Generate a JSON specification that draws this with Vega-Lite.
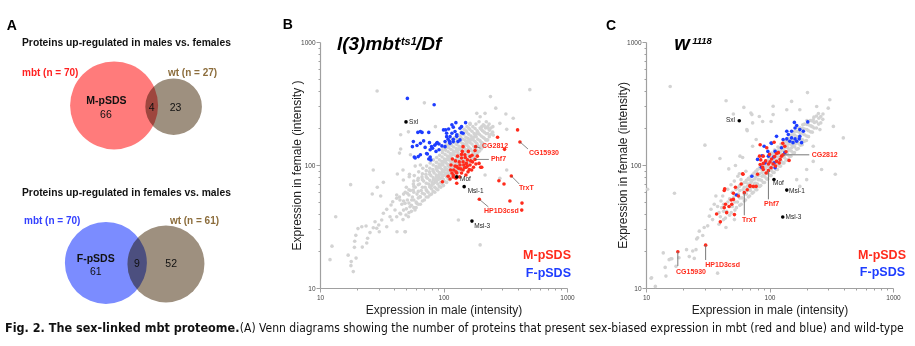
{
"$schema": "https://vega.github.io/schema/vega-lite/v6.json",
"background": "white",
"padding": {"left": 0, "top": 17, "right": 0, "bottom": 0},
"config": {"view": {"stroke": null}, "font": "Liberation Sans"},
"spacing": 4,
"datasets": {
"ptsB": [
{"male":17.7,"female":69.2,"group":"other"},{"male":13.4,"female":38,"group":"other"},{"male":12.5,"female":21.9,"group":"other"},{"male":12.05,"female":17,"group":"other"},{"male":18.6,"female":13.6,"group":"other"},{"male":17.8,"female":15.2,"group":"other"},{"male":17.9,"female":16.4,"group":"other"},{"male":16.9,"female":18.5,"group":"other"},{"male":19.6,"female":17.5,"group":"other"},{"male":19,"female":21.4,"group":"other"},{"male":19.1,"female":24,"group":"other"},{"male":22,"female":21.5,"group":"other"},{"male":24.3,"female":25.4,"group":"other"},{"male":23.9,"female":23.2,"group":"other"},{"male":19.5,"female":26.8,"group":"other"},{"male":20.3,"female":30.4,"group":"other"},{"male":21.8,"female":31.5,"group":"other"},{"male":23.6,"female":31.9,"group":"other"},{"male":25.4,"female":28.2,"group":"other"},{"male":27,"female":30.9,"group":"other"},{"male":27.9,"female":34.6,"group":"other"},{"male":28.8,"female":30.6,"group":"other"},{"male":30.2,"female":28.7,"group":"other"},{"male":29.9,"female":32.5,"group":"other"},{"male":31.6,"female":35.7,"group":"other"},{"male":32.6,"female":40.5,"group":"other"},{"male":34.7,"female":43.6,"group":"other"},{"male":36.9,"female":38,"group":"other"},{"male":38.1,"female":35.7,"group":"other"},{"male":42,"female":28.7,"group":"other"},{"male":49.1,"female":28.7,"group":"other"},{"male":34.7,"female":31.5,"group":"other"},{"male":37.6,"female":47.3,"group":"other"},{"male":38.8,"female":50.3,"group":"other"},{"male":41.8,"female":53.6,"group":"other"},{"male":40.5,"female":43.1,"group":"other"},{"male":44.4,"female":40.5,"group":"other"},{"male":49.7,"female":39.2,"group":"other"},{"male":41.8,"female":38,"group":"other"},{"male":26.5,"female":58.1,"group":"other"},{"male":31,"female":56,"group":"other"},{"male":29.1,"female":65.9,"group":"other"},{"male":32.6,"female":72.3,"group":"other"},{"male":27,"female":91.1,"group":"other"},{"male":42.3,"female":84.5,"group":"other"},{"male":47.3,"female":75.5,"group":"other"},{"male":52.8,"female":80.3,"group":"other"},{"male":41.8,"female":57,"group":"other"},{"male":44.4,"female":51.9,"group":"other"},{"male":48.8,"female":48.8,"group":"other"},{"male":53.5,"female":45.8,"group":"other"},{"male":58.8,"female":43.1,"group":"other"},{"male":50.9,"female":58.9,"group":"other"},{"male":56.9,"female":62.6,"group":"other"},{"male":55.3,"female":51.9,"group":"other"},{"male":60.7,"female":48.8,"group":"other"},{"male":64.5,"female":55.3,"group":"other"},
{"male":29,"female":400,"group":"other"},{"male":70,"female":320,"group":"other"},{"male":86,"female":205,"group":"other"},{"male":52,"female":186,"group":"other"},{"male":45,"female":176,"group":"other"},{"male":45,"female":135,"group":"other"},{"male":44,"female":125,"group":"other"},{"male":54,"female":121,"group":"other"},{"male":47,"female":91,"group":"other"},{"male":53,"female":84,"group":"other"},{"male":59,"female":98,"group":"other"},{"male":65,"female":100,"group":"other"},
{"male":500,"female":410,"group":"other"},{"male":240,"female":360,"group":"other"},{"male":265,"female":290,"group":"other"},{"male":320,"female":260,"group":"other"},{"male":217,"female":263,"group":"other"},{"male":286,"female":218,"group":"other"},{"male":198,"female":247,"group":"other"},{"male":186,"female":263,"group":"other"},{"male":164,"female":218,"group":"other"},{"male":325,"female":195,"group":"other"},{"male":367,"female":240,"group":"other"},{"male":204,"female":205,"group":"other"},{"male":230,"female":199,"group":"other"},{"male":253,"female":175,"group":"other"},{"male":224,"female":160,"group":"other"},{"male":204,"female":146,"group":"other"},{"male":325,"female":91,"group":"other"},{"male":286,"female":78,"group":"other"},{"male":217,"female":83,"group":"other"},{"male":132,"female":35.7,"group":"other"},{"male":198,"female":22.4,"group":"other"},{"male":48.8,"female":28.7,"group":"other"},
{"male":45,"female":40,"group":"other"},{"male":46,"female":48,"group":"other"},{"male":44,"female":55,"group":"other"},{"male":47,"female":36,"group":"other"},
{"male":50,"female":44,"group":"other"},{"male":51,"female":52,"group":"other"},{"male":49,"female":60,"group":"other"},{"male":52,"female":38,"group":"other"},{"male":50,"female":66,"group":"other"},
{"male":55,"female":47,"group":"other"},{"male":56,"female":55,"group":"other"},{"male":54,"female":62,"group":"other"},{"male":57,"female":70,"group":"other"},{"male":55,"female":42,"group":"other"},
{"male":60,"female":50,"group":"other"},{"male":61,"female":58,"group":"other"},{"male":59,"female":66,"group":"other"},{"male":62,"female":75,"group":"other"},{"male":60,"female":45,"group":"other"},{"male":58,"female":82,"group":"other"},
{"male":65,"female":55,"group":"other"},{"male":66,"female":62,"group":"other"},{"male":64,"female":70,"group":"other"},{"male":67,"female":80,"group":"other"},{"male":65,"female":48,"group":"other"},{"male":63,"female":88,"group":"other"},
{"male":70,"female":58,"group":"other"},{"male":71,"female":66,"group":"other"},{"male":69,"female":74,"group":"other"},{"male":72,"female":84,"group":"other"},{"male":70,"female":52,"group":"other"},{"male":68,"female":94,"group":"other"},{"male":73,"female":62,"group":"other"},
{"male":75,"female":60,"group":"other"},{"male":76,"female":70,"group":"other"},{"male":74,"female":78,"group":"other"},{"male":77,"female":88,"group":"other"},{"male":75,"female":55,"group":"other"},{"male":73,"female":98,"group":"other"},{"male":78,"female":66,"group":"other"},
{"male":80,"female":64,"group":"other"},{"male":81,"female":72,"group":"other"},{"male":79,"female":82,"group":"other"},{"male":82,"female":92,"group":"other"},{"male":80,"female":58,"group":"other"},{"male":78,"female":104,"group":"other"},{"male":83,"female":76,"group":"other"},{"male":80,"female":68,"group":"other"},
{"male":85,"female":66,"group":"other"},{"male":86,"female":76,"group":"other"},{"male":84,"female":86,"group":"other"},{"male":87,"female":97,"group":"other"},{"male":85,"female":60,"group":"other"},{"male":83,"female":110,"group":"other"},{"male":88,"female":80,"group":"other"},{"male":85,"female":72,"group":"other"},
{"male":90,"female":70,"group":"other"},{"male":91,"female":80,"group":"other"},{"male":89,"female":90,"group":"other"},{"male":92,"female":102,"group":"other"},{"male":90,"female":63,"group":"other"},{"male":88,"female":115,"group":"other"},{"male":93,"female":84,"group":"other"},{"male":90,"female":76,"group":"other"},{"male":91,"female":96,"group":"other"},
{"male":95,"female":72,"group":"other"},{"male":96,"female":84,"group":"other"},{"male":94,"female":95,"group":"other"},{"male":97,"female":107,"group":"other"},{"male":95,"female":66,"group":"other"},{"male":93,"female":120,"group":"other"},{"male":98,"female":88,"group":"other"},{"male":95,"female":78,"group":"other"},{"male":96,"female":100,"group":"other"},
{"male":100,"female":76,"group":"other"},{"male":101,"female":88,"group":"other"},{"male":99,"female":100,"group":"other"},{"male":102,"female":112,"group":"other"},{"male":100,"female":68,"group":"other"},{"male":98,"female":126,"group":"other"},{"male":103,"female":92,"group":"other"},{"male":100,"female":82,"group":"other"},{"male":101,"female":106,"group":"other"},{"male":99,"female":140,"group":"other"},
{"male":106,"female":80,"group":"other"},{"male":107,"female":92,"group":"other"},{"male":105,"female":104,"group":"other"},{"male":108,"female":118,"group":"other"},{"male":106,"female":72,"group":"other"},{"male":104,"female":132,"group":"other"},{"male":109,"female":98,"group":"other"},{"male":106,"female":86,"group":"other"},{"male":107,"female":111,"group":"other"},{"male":105,"female":146,"group":"other"},
{"male":112,"female":84,"group":"other"},{"male":113,"female":96,"group":"other"},{"male":111,"female":110,"group":"other"},{"male":114,"female":124,"group":"other"},{"male":112,"female":76,"group":"other"},{"male":110,"female":138,"group":"other"},{"male":115,"female":102,"group":"other"},{"male":112,"female":90,"group":"other"},{"male":113,"female":116,"group":"other"},{"male":111,"female":152,"group":"other"},
{"male":118,"female":88,"group":"other"},{"male":119,"female":100,"group":"other"},{"male":117,"female":114,"group":"other"},{"male":120,"female":130,"group":"other"},{"male":118,"female":80,"group":"other"},{"male":116,"female":145,"group":"other"},{"male":121,"female":106,"group":"other"},{"male":118,"female":94,"group":"other"},{"male":119,"female":122,"group":"other"},{"male":117,"female":160,"group":"other"},
{"male":125,"female":92,"group":"other"},{"male":126,"female":105,"group":"other"},{"male":124,"female":120,"group":"other"},{"male":127,"female":136,"group":"other"},{"male":125,"female":84,"group":"other"},{"male":123,"female":152,"group":"other"},{"male":128,"female":112,"group":"other"},{"male":125,"female":98,"group":"other"},{"male":126,"female":128,"group":"other"},{"male":124,"female":168,"group":"other"},
{"male":132,"female":96,"group":"other"},{"male":133,"female":110,"group":"other"},{"male":131,"female":126,"group":"other"},{"male":134,"female":142,"group":"other"},{"male":132,"female":88,"group":"other"},{"male":130,"female":160,"group":"other"},{"male":135,"female":118,"group":"other"},{"male":132,"female":102,"group":"other"},{"male":133,"female":134,"group":"other"},{"male":131,"female":176,"group":"other"},
{"male":140,"female":100,"group":"other"},{"male":141,"female":116,"group":"other"},{"male":139,"female":132,"group":"other"},{"male":142,"female":150,"group":"other"},{"male":140,"female":92,"group":"other"},{"male":138,"female":168,"group":"other"},{"male":143,"female":124,"group":"other"},{"male":140,"female":108,"group":"other"},{"male":141,"female":140,"group":"other"},{"male":139,"female":185,"group":"other"},
{"male":148,"female":106,"group":"other"},{"male":149,"female":122,"group":"other"},{"male":147,"female":138,"group":"other"},{"male":150,"female":158,"group":"other"},{"male":148,"female":96,"group":"other"},{"male":146,"female":176,"group":"other"},{"male":151,"female":130,"group":"other"},{"male":149,"female":146,"group":"other"},{"male":147,"female":195,"group":"other"},
{"male":156,"female":112,"group":"other"},{"male":157,"female":128,"group":"other"},{"male":155,"female":145,"group":"other"},{"male":158,"female":165,"group":"other"},{"male":156,"female":102,"group":"other"},{"male":154,"female":185,"group":"other"},{"male":159,"female":136,"group":"other"},{"male":157,"female":154,"group":"other"},{"male":155,"female":205,"group":"other"},
{"male":165,"female":118,"group":"other"},{"male":166,"female":135,"group":"other"},{"male":164,"female":152,"group":"other"},{"male":167,"female":172,"group":"other"},{"male":165,"female":108,"group":"other"},{"male":163,"female":195,"group":"other"},{"male":166,"female":160,"group":"other"},{"male":164,"female":214,"group":"other"},
{"male":175,"female":125,"group":"other"},{"male":176,"female":142,"group":"other"},{"male":174,"female":160,"group":"other"},{"male":177,"female":180,"group":"other"},{"male":175,"female":115,"group":"other"},{"male":173,"female":205,"group":"other"},{"male":176,"female":168,"group":"other"},
{"male":185,"female":132,"group":"other"},{"male":186,"female":150,"group":"other"},{"male":184,"female":170,"group":"other"},{"male":187,"female":190,"group":"other"},{"male":185,"female":122,"group":"other"},{"male":183,"female":215,"group":"other"},{"male":186,"female":180,"group":"other"},
{"male":196,"female":140,"group":"other"},{"male":197,"female":158,"group":"other"},{"male":195,"female":178,"group":"other"},{"male":198,"female":200,"group":"other"},{"male":196,"female":130,"group":"other"},{"male":194,"female":225,"group":"other"},
{"male":208,"female":150,"group":"other"},{"male":209,"female":168,"group":"other"},{"male":207,"female":190,"group":"other"},{"male":210,"female":212,"group":"other"},{"male":208,"female":140,"group":"other"},
{"male":220,"female":160,"group":"other"},{"male":221,"female":180,"group":"other"},{"male":219,"female":200,"group":"other"},{"male":222,"female":225,"group":"other"},
{"male":235,"female":170,"group":"other"},{"male":236,"female":192,"group":"other"},{"male":234,"female":215,"group":"other"},
{"male":250,"female":185,"group":"other"},{"male":251,"female":205,"group":"other"},
{"male":47.5,"female":43,"group":"other"},{"male":47.5,"female":51,"group":"other"},{"male":47.5,"female":58,"group":"other"},
{"male":52.5,"female":41,"group":"other"},{"male":52.5,"female":49,"group":"other"},{"male":52.5,"female":57,"group":"other"},{"male":52.5,"female":63,"group":"other"},
{"male":57.5,"female":45,"group":"other"},{"male":57.5,"female":52,"group":"other"},{"male":57.5,"female":60,"group":"other"},{"male":57.5,"female":67,"group":"other"},{"male":57.5,"female":74,"group":"other"},
{"male":62.5,"female":48,"group":"other"},{"male":62.5,"female":54,"group":"other"},{"male":62.5,"female":61,"group":"other"},{"male":62.5,"female":69,"group":"other"},{"male":62.5,"female":78,"group":"other"},
{"male":67.5,"female":51,"group":"other"},{"male":67.5,"female":59,"group":"other"},{"male":67.5,"female":66,"group":"other"},{"male":67.5,"female":76,"group":"other"},{"male":67.5,"female":85,"group":"other"},
{"male":72.5,"female":55,"group":"other"},{"male":72.5,"female":63,"group":"other"},{"male":72.5,"female":71,"group":"other"},{"male":72.5,"female":80,"group":"other"},{"male":72.5,"female":90,"group":"other"},
{"male":77.5,"female":57,"group":"other"},{"male":77.5,"female":67,"group":"other"},{"male":77.5,"female":75,"group":"other"},{"male":77.5,"female":84,"group":"other"},{"male":77.5,"female":94,"group":"other"},
{"male":82.5,"female":61,"group":"other"},{"male":82.5,"female":70,"group":"other"},{"male":82.5,"female":79,"group":"other"},{"male":82.5,"female":89,"group":"other"},{"male":82.5,"female":100,"group":"other"},
{"male":87.5,"female":64,"group":"other"},{"male":87.5,"female":73,"group":"other"},{"male":87.5,"female":83,"group":"other"},{"male":87.5,"female":93,"group":"other"},{"male":87.5,"female":105,"group":"other"},
{"male":92.5,"female":67,"group":"other"},{"male":92.5,"female":77,"group":"other"},{"male":92.5,"female":87,"group":"other"},{"male":92.5,"female":98,"group":"other"},{"male":92.5,"female":110,"group":"other"},
{"male":97.5,"female":70,"group":"other"},{"male":97.5,"female":80,"group":"other"},{"male":97.5,"female":92,"group":"other"},{"male":97.5,"female":103,"group":"other"},{"male":97.5,"female":116,"group":"other"},{"male":97.5,"female":132,"group":"other"},
{"male":103,"female":73,"group":"other"},{"male":103,"female":84,"group":"other"},{"male":103,"female":96,"group":"other"},{"male":103,"female":108,"group":"other"},{"male":103,"female":122,"group":"other"},{"male":103,"female":138,"group":"other"},
{"male":109,"female":77,"group":"other"},{"male":109,"female":88,"group":"other"},{"male":109,"female":101,"group":"other"},{"male":109,"female":114,"group":"other"},{"male":109,"female":128,"group":"other"},{"male":109,"female":144,"group":"other"},
{"male":115,"female":81,"group":"other"},{"male":115,"female":92,"group":"other"},{"male":115,"female":106,"group":"other"},{"male":115,"female":120,"group":"other"},{"male":115,"female":134,"group":"other"},{"male":115,"female":150,"group":"other"},
{"male":121,"female":85,"group":"other"},{"male":121,"female":97,"group":"other"},{"male":121,"female":110,"group":"other"},{"male":121,"female":125,"group":"other"},{"male":121,"female":140,"group":"other"},{"male":121,"female":156,"group":"other"},
{"male":128,"female":88,"group":"other"},{"male":128,"female":101,"group":"other"},{"male":128,"female":115,"group":"other"},{"male":128,"female":131,"group":"other"},{"male":128,"female":147,"group":"other"},{"male":128,"female":164,"group":"other"},
{"male":136,"female":92,"group":"other"},{"male":136,"female":106,"group":"other"},{"male":136,"female":121,"group":"other"},{"male":136,"female":138,"group":"other"},{"male":136,"female":155,"group":"other"},{"male":136,"female":172,"group":"other"},
{"male":144,"female":97,"group":"other"},{"male":144,"female":111,"group":"other"},{"male":144,"female":127,"group":"other"},{"male":144,"female":144,"group":"other"},{"male":144,"female":162,"group":"other"},{"male":144,"female":180,"group":"other"},
{"male":152,"female":102,"group":"other"},{"male":152,"female":117,"group":"other"},{"male":152,"female":133,"group":"other"},{"male":152,"female":150,"group":"other"},{"male":152,"female":168,"group":"other"},{"male":152,"female":190,"group":"other"},
{"male":160,"female":107,"group":"other"},{"male":160,"female":122,"group":"other"},{"male":160,"female":140,"group":"other"},{"male":160,"female":158,"group":"other"},{"male":160,"female":178,"group":"other"},{"male":160,"female":200,"group":"other"},
{"male":170,"female":113,"group":"other"},{"male":170,"female":130,"group":"other"},{"male":170,"female":148,"group":"other"},{"male":170,"female":166,"group":"other"},{"male":170,"female":188,"group":"other"},
{"male":180,"female":120,"group":"other"},{"male":180,"female":137,"group":"other"},{"male":180,"female":155,"group":"other"},{"male":180,"female":175,"group":"other"},{"male":180,"female":198,"group":"other"},
{"male":190,"female":127,"group":"other"},{"male":190,"female":144,"group":"other"},{"male":190,"female":162,"group":"other"},{"male":190,"female":184,"group":"other"},
{"male":202,"female":135,"group":"other"},{"male":202,"female":153,"group":"other"},{"male":202,"female":172,"group":"other"},{"male":202,"female":195,"group":"other"},
{"male":214,"female":145,"group":"other"},{"male":214,"female":165,"group":"other"},{"male":214,"female":185,"group":"other"},{"male":214,"female":208,"group":"other"},
{"male":228,"female":160,"group":"other"},{"male":228,"female":180,"group":"other"},{"male":228,"female":205,"group":"other"},
{"male":242,"female":178,"group":"other"},{"male":242,"female":200,"group":"other"},
{"male":51,"female":348,"group":"F-pSDS"},{"male":84,"female":309,"group":"F-pSDS"},{"male":62,"female":184,"group":"F-pSDS"},{"male":67,"female":184,"group":"F-pSDS"},{"male":76,"female":184,"group":"F-pSDS"},{"male":57,"female":155,"group":"F-pSDS"},{"male":65,"female":150,"group":"F-pSDS"},{"male":69,"female":157,"group":"F-pSDS"},{"male":77,"female":152,"group":"F-pSDS"},{"male":56,"female":141,"group":"F-pSDS"},{"male":61,"female":144,"group":"F-pSDS"},{"male":71,"female":139,"group":"F-pSDS"},{"male":85,"female":145,"group":"F-pSDS"},{"male":89,"female":152,"group":"F-pSDS"},{"male":92,"female":148,"group":"F-pSDS"},{"male":97,"female":143,"group":"F-pSDS"},{"male":104,"female":193,"group":"F-pSDS"},{"male":106,"female":170,"group":"F-pSDS"},{"male":109,"female":162,"group":"F-pSDS"},{"male":112,"female":155,"group":"F-pSDS"},{"male":103,"female":141,"group":"F-pSDS"},{"male":92,"female":133,"group":"F-pSDS"},{"male":78,"female":133,"group":"F-pSDS"},{"male":87,"female":129,"group":"F-pSDS"},{"male":65,"female":121,"group":"F-pSDS"},{"male":74,"female":123,"group":"F-pSDS"},{"male":78,"female":116,"group":"F-pSDS"},{"male":79,"female":110,"group":"F-pSDS"},{"male":59,"female":114,"group":"F-pSDS"},{"male":76,"female":112,"group":"F-pSDS"},{"male":110,"female":196,"group":"F-pSDS"},{"male":117,"female":181,"group":"F-pSDS"},{"male":124,"female":187,"group":"F-pSDS"},{"male":136,"female":199,"group":"F-pSDS"},{"male":140,"female":183,"group":"F-pSDS"},{"male":128,"female":171,"group":"F-pSDS"},{"male":120,"female":162,"group":"F-pSDS"},{"male":113,"female":150,"group":"F-pSDS"},{"male":103,"female":155,"group":"F-pSDS"},{"male":131,"female":155,"group":"F-pSDS"},{"male":144,"female":181,"group":"F-pSDS"},{"male":117,"female":212,"group":"F-pSDS"},{"male":126,"female":221,"group":"F-pSDS"},{"male":80,"female":141,"group":"F-pSDS"},{"male":65,"female":187,"group":"F-pSDS"},{"male":58,"female":116,"group":"F-pSDS"},{"male":120,"female":203,"group":"F-pSDS"},{"male":140,"female":205,"group":"F-pSDS"},{"male":151,"female":221,"group":"F-pSDS"},{"male":100,"female":193,"group":"F-pSDS"},{"male":62.5,"female":117,"group":"F-pSDS"},{"male":73,"female":124,"group":"F-pSDS"},{"male":81.6,"female":137,"group":"F-pSDS"},{"male":88,"female":150,"group":"F-pSDS"},{"male":106,"female":181,"group":"F-pSDS"},{"male":113,"female":170,"group":"F-pSDS"},{"male":128,"female":176,"group":"F-pSDS"},{"male":136,"female":160,"group":"F-pSDS"},{"male":120,"female":155,"group":"F-pSDS"},
{"male":398,"female":193,"group":"M-pSDS"},{"male":416,"female":154,"group":"M-pSDS"},{"male":274,"female":168,"group":"M-pSDS"},{"male":312,"female":134,"group":"M-pSDS"},{"male":182,"female":141,"group":"M-pSDS"},{"male":180,"female":131,"group":"M-pSDS"},{"male":200,"female":96,"group":"M-pSDS"},{"male":164,"female":117,"group":"M-pSDS"},{"male":156,"female":110,"group":"M-pSDS"},{"male":149,"female":121,"group":"M-pSDS"},{"male":144,"female":106,"group":"M-pSDS"},{"male":140,"female":114,"group":"M-pSDS"},{"male":136,"female":100,"group":"M-pSDS"},{"male":132,"female":94,"group":"M-pSDS"},{"male":144,"female":91,"group":"M-pSDS"},{"male":153,"female":96,"group":"M-pSDS"},{"male":128,"female":86,"group":"M-pSDS"},{"male":120,"female":80,"group":"M-pSDS"},{"male":114,"female":91,"group":"M-pSDS"},{"male":124,"female":98,"group":"M-pSDS"},{"male":140,"female":86,"group":"M-pSDS"},{"male":164,"female":100,"group":"M-pSDS"},{"male":172,"female":106,"group":"M-pSDS"},{"male":169,"female":91,"group":"M-pSDS"},{"male":152,"female":83,"group":"M-pSDS"},{"male":134,"female":106,"group":"M-pSDS"},{"male":142,"female":129,"group":"M-pSDS"},{"male":159,"female":129,"group":"M-pSDS"},{"male":98,"female":73,"group":"M-pSDS"},{"male":113,"female":77,"group":"M-pSDS"},{"male":117,"female":86,"group":"M-pSDS"},{"male":128,"female":97,"group":"M-pSDS"},{"male":153,"female":103,"group":"M-pSDS"},{"male":166,"female":108,"group":"M-pSDS"},{"male":183,"female":102,"group":"M-pSDS"},{"male":194,"female":103,"group":"M-pSDS"},{"male":204,"female":96,"group":"M-pSDS"},{"male":121,"female":91,"group":"M-pSDS"},{"male":126,"female":78,"group":"M-pSDS"},{"male":128,"female":71,"group":"M-pSDS"},{"male":120,"female":83,"group":"M-pSDS"},{"male":109,"female":81,"group":"M-pSDS"},{"male":281,"female":74.5,"group":"M-pSDS"},{"male":309,"female":70,"group":"M-pSDS"},{"male":354,"female":81.4,"group":"M-pSDS"},{"male":345,"female":51,"group":"M-pSDS"},{"male":432,"female":49,"group":"M-pSDS"},{"male":430,"female":43,"group":"M-pSDS"},{"male":195,"female":52.6,"group":"M-pSDS"},{"male":140,"female":122,"group":"M-pSDS"},{"male":144,"female":141,"group":"M-pSDS"},{"male":180,"female":111,"group":"M-pSDS"},{"male":130,"female":118,"group":"M-pSDS"},{"male":148,"female":95,"group":"M-pSDS"},{"male":158,"female":88,"group":"M-pSDS"},{"male":175,"female":96,"group":"M-pSDS"},{"male":188,"female":118,"group":"M-pSDS"},{"male":125,"female":108,"group":"M-pSDS"},{"male":115,"female":100,"group":"M-pSDS"},{"male":135,"female":80,"group":"M-pSDS"},{"male":162,"female":92,"group":"M-pSDS"},{"male":170,"female":120,"group":"M-pSDS"},{"male":150,"female":115,"group":"M-pSDS"},{"male":138,"female":93,"group":"M-pSDS"},{"male":146,"female":100,"group":"M-pSDS"},{"male":156,"female":98,"group":"M-pSDS"},{"male":118,"female":112,"group":"M-pSDS"},{"male":126,"female":88,"group":"M-pSDS"},
{"male":49.7,"female":224,"group":"marker"},{"male":128,"female":80,"group":"marker"},{"male":147,"female":66.7,"group":"marker"},{"male":170,"female":35,"group":"marker"}
],
"ptsC": [
{"male":15.7,"female":435,"group":"other"},{"male":44.5,"female":333,"group":"other"},{"male":62,"female":294,"group":"other"},{"male":51,"female":260,"group":"other"},{"male":70.7,"female":265,"group":"other"},{"male":82.7,"female":248,"group":"other"},{"male":88,"female":226,"group":"other"},{"male":73,"female":220,"group":"other"},{"male":66,"female":190,"group":"other"},{"male":103,"female":226,"group":"other"},{"male":30,"female":145,"group":"other"},{"male":39.7,"female":113,"group":"other"},{"male":46.8,"female":93,"group":"other"},{"male":53,"female":99,"group":"other"},{"male":60.6,"female":115,"group":"other"},{"male":57,"female":85,"group":"other"},{"male":64.4,"female":89,"group":"other"},{"male":78,"female":161,"group":"other"},{"male":73,"female":142,"group":"other"},{"male":107,"female":300,"group":"other"},{"male":151,"female":329,"group":"other"},{"male":203,"female":388,"group":"other"},{"male":308,"female":339,"group":"other"},{"male":396,"female":166,"group":"other"},
{"male":11,"female":12,"group":"other"},{"male":11.9,"female":10.3,"group":"other"},{"male":14.5,"female":12.5,"group":"other"},{"male":15.4,"female":17,"group":"other"},{"male":16.2,"female":17.3,"group":"other"},{"male":17.5,"female":15,"group":"other"},{"male":18.5,"female":17.6,"group":"other"},{"male":21.3,"female":20.5,"group":"other"},{"male":22.4,"female":18,"group":"other"},{"male":23.9,"female":20,"group":"other"},{"male":25.4,"female":20.5,"group":"other"},{"male":26.2,"female":25.6,"group":"other"},{"male":27,"female":29,"group":"other"},{"male":28.8,"female":26.7,"group":"other"},{"male":24.6,"female":17.4,"group":"other"},{"male":17,"female":59,"group":"other"},{"male":10.3,"female":63.5,"group":"other"},{"male":29.6,"female":31,"group":"other"},{"male":31.6,"female":32,"group":"other"},{"male":32.6,"female":38.4,"group":"other"},{"male":34.6,"female":36,"group":"other"},{"male":33.6,"female":43.7,"group":"other"},{"male":35.7,"female":48,"group":"other"},{"male":38,"female":46,"group":"other"},{"male":40.5,"female":51,"group":"other"},{"male":41.8,"female":56,"group":"other"},{"male":36.8,"female":56,"group":"other"},{"male":39,"female":41,"group":"other"},{"male":45.9,"female":63.5,"group":"other"},{"male":48.8,"female":69,"group":"other"},{"male":51.9,"female":74,"group":"other"},{"male":53.5,"female":63.5,"group":"other"},{"male":56.9,"female":67,"group":"other"},{"male":55.4,"female":81,"group":"other"},{"male":58.8,"female":76,"group":"other"},{"male":64.4,"female":72,"group":"other"},{"male":68.6,"female":76,"group":"other"},{"male":44.4,"female":31,"group":"other"},{"male":52,"female":36,"group":"other"},{"male":14.3,"female":14.7,"group":"other"},{"male":13.8,"female":19.3,"group":"other"},{"male":15.9,"female":17.3,"group":"other"},{"male":11.1,"female":12.1,"group":"other"},{"male":38,"female":13.2,"group":"other"},{"male":25.7,"female":25,"group":"other"},{"male":176,"female":67,"group":"other"},{"male":200,"female":76,"group":"other"},{"male":264,"female":92,"group":"other"},{"male":341,"female":84,"group":"other"},{"male":200,"female":92,"group":"other"},
{"male":299,"female":290,"group":"other"},{"male":241,"female":299,"group":"other"},{"male":176,"female":281,"group":"other"},{"male":226,"female":233,"group":"other"},{"male":256,"female":194,"group":"other"},{"male":329,"female":206,"group":"other"},{"male":226,"female":142,"group":"other"},{"male":138,"female":281,"group":"other"},{"male":107,"female":257,"group":"other"},{"male":72,"female":257,"group":"other"},{"male":65.5,"female":194,"group":"other"},{"male":57.7,"female":118,"group":"other"},{"male":226,"female":107,"group":"other"},{"male":166,"female":76,"group":"other"},
{"male":40,"female":38,"group":"other"},{"male":41,"female":45,"group":"other"},{"male":39,"female":33,"group":"other"},
{"male":45,"female":42,"group":"other"},{"male":46,"female":50,"group":"other"},{"male":44,"female":37,"group":"other"},
{"male":50,"female":46,"group":"other"},{"male":51,"female":54,"group":"other"},{"male":49,"female":41,"group":"other"},{"male":50,"female":60,"group":"other"},
{"male":55,"female":50,"group":"other"},{"male":56,"female":58,"group":"other"},{"male":54,"female":45,"group":"other"},{"male":55,"female":65,"group":"other"},
{"male":60,"female":54,"group":"other"},{"male":61,"female":63,"group":"other"},{"male":59,"female":48,"group":"other"},{"male":60,"female":70,"group":"other"},
{"male":65,"female":58,"group":"other"},{"male":66,"female":67,"group":"other"},{"male":64,"female":52,"group":"other"},{"male":65,"female":75,"group":"other"},{"male":66,"female":62,"group":"other"},
{"male":70,"female":62,"group":"other"},{"male":71,"female":72,"group":"other"},{"male":69,"female":56,"group":"other"},{"male":70,"female":80,"group":"other"},{"male":71,"female":66,"group":"other"},
{"male":75,"female":66,"group":"other"},{"male":76,"female":77,"group":"other"},{"male":74,"female":60,"group":"other"},{"male":75,"female":86,"group":"other"},{"male":76,"female":71,"group":"other"},
{"male":80,"female":70,"group":"other"},{"male":81,"female":82,"group":"other"},{"male":79,"female":63,"group":"other"},{"male":80,"female":92,"group":"other"},{"male":81,"female":76,"group":"other"},{"male":79,"female":87,"group":"other"},
{"male":86,"female":75,"group":"other"},{"male":87,"female":87,"group":"other"},{"male":85,"female":68,"group":"other"},{"male":86,"female":98,"group":"other"},{"male":87,"female":81,"group":"other"},{"male":85,"female":93,"group":"other"},
{"male":92,"female":80,"group":"other"},{"male":93,"female":93,"group":"other"},{"male":91,"female":72,"group":"other"},{"male":92,"female":104,"group":"other"},{"male":93,"female":86,"group":"other"},{"male":91,"female":99,"group":"other"},
{"male":98,"female":85,"group":"other"},{"male":99,"female":98,"group":"other"},{"male":97,"female":77,"group":"other"},{"male":98,"female":110,"group":"other"},{"male":99,"female":91,"group":"other"},{"male":97,"female":104,"group":"other"},{"male":98,"female":118,"group":"other"},
{"male":104,"female":90,"group":"other"},{"male":105,"female":104,"group":"other"},{"male":103,"female":82,"group":"other"},{"male":104,"female":116,"group":"other"},{"male":105,"female":97,"group":"other"},{"male":103,"female":110,"group":"other"},{"male":104,"female":125,"group":"other"},
{"male":110,"female":96,"group":"other"},{"male":111,"female":110,"group":"other"},{"male":109,"female":87,"group":"other"},{"male":110,"female":122,"group":"other"},{"male":111,"female":103,"group":"other"},{"male":109,"female":116,"group":"other"},{"male":110,"female":132,"group":"other"},
{"male":117,"female":102,"group":"other"},{"male":118,"female":116,"group":"other"},{"male":116,"female":92,"group":"other"},{"male":117,"female":130,"group":"other"},{"male":118,"female":109,"group":"other"},{"male":116,"female":123,"group":"other"},{"male":117,"female":140,"group":"other"},
{"male":124,"female":108,"group":"other"},{"male":125,"female":123,"group":"other"},{"male":123,"female":98,"group":"other"},{"male":124,"female":138,"group":"other"},{"male":125,"female":116,"group":"other"},{"male":123,"female":130,"group":"other"},{"male":124,"female":148,"group":"other"},
{"male":132,"female":115,"group":"other"},{"male":133,"female":130,"group":"other"},{"male":131,"female":104,"group":"other"},{"male":132,"female":146,"group":"other"},{"male":133,"female":122,"group":"other"},{"male":131,"female":138,"group":"other"},{"male":132,"female":156,"group":"other"},
{"male":140,"female":122,"group":"other"},{"male":141,"female":138,"group":"other"},{"male":139,"female":110,"group":"other"},{"male":140,"female":155,"group":"other"},{"male":141,"female":130,"group":"other"},{"male":139,"female":146,"group":"other"},{"male":140,"female":165,"group":"other"},
{"male":150,"female":130,"group":"other"},{"male":151,"female":147,"group":"other"},{"male":149,"female":118,"group":"other"},{"male":150,"female":164,"group":"other"},{"male":151,"female":138,"group":"other"},{"male":149,"female":156,"group":"other"},{"male":150,"female":175,"group":"other"},
{"male":160,"female":140,"group":"other"},{"male":161,"female":157,"group":"other"},{"male":159,"female":126,"group":"other"},{"male":160,"female":175,"group":"other"},{"male":161,"female":148,"group":"other"},{"male":159,"female":187,"group":"other"},
{"male":172,"female":150,"group":"other"},{"male":173,"female":168,"group":"other"},{"male":171,"female":136,"group":"other"},{"male":172,"female":186,"group":"other"},{"male":173,"female":200,"group":"other"},
{"male":185,"female":160,"group":"other"},{"male":186,"female":180,"group":"other"},{"male":184,"female":146,"group":"other"},{"male":185,"female":198,"group":"other"},{"male":186,"female":212,"group":"other"},
{"male":200,"female":172,"group":"other"},{"male":201,"female":194,"group":"other"},{"male":199,"female":158,"group":"other"},{"male":200,"female":214,"group":"other"},{"male":201,"female":230,"group":"other"},
{"male":215,"female":186,"group":"other"},{"male":216,"female":208,"group":"other"},{"male":214,"female":230,"group":"other"},
{"male":230,"female":200,"group":"other"},{"male":231,"female":222,"group":"other"},{"male":229,"female":245,"group":"other"},
{"male":250,"female":215,"group":"other"},{"male":251,"female":240,"group":"other"},{"male":249,"female":262,"group":"other"},
{"male":270,"female":235,"group":"other"},{"male":271,"female":260,"group":"other"},
{"male":42.5,"female":36,"group":"other"},{"male":42.5,"female":42,"group":"other"},{"male":42.5,"female":48,"group":"other"},
{"male":47.5,"female":39,"group":"other"},{"male":47.5,"female":46,"group":"other"},{"male":47.5,"female":53,"group":"other"},
{"male":52.5,"female":43,"group":"other"},{"male":52.5,"female":50,"group":"other"},{"male":52.5,"female":57,"group":"other"},
{"male":57.5,"female":47,"group":"other"},{"male":57.5,"female":54,"group":"other"},{"male":57.5,"female":62,"group":"other"},{"male":57.5,"female":68,"group":"other"},
{"male":62.5,"female":51,"group":"other"},{"male":62.5,"female":58,"group":"other"},{"male":62.5,"female":66,"group":"other"},{"male":62.5,"female":72,"group":"other"},
{"male":67.5,"female":55,"group":"other"},{"male":67.5,"female":63,"group":"other"},{"male":67.5,"female":70,"group":"other"},{"male":67.5,"female":78,"group":"other"},
{"male":72.5,"female":59,"group":"other"},{"male":72.5,"female":67,"group":"other"},{"male":72.5,"female":75,"group":"other"},{"male":72.5,"female":83,"group":"other"},
{"male":77.5,"female":63,"group":"other"},{"male":77.5,"female":71,"group":"other"},{"male":77.5,"female":80,"group":"other"},{"male":77.5,"female":89,"group":"other"},
{"male":83,"female":67,"group":"other"},{"male":83,"female":76,"group":"other"},{"male":83,"female":85,"group":"other"},{"male":83,"female":95,"group":"other"},
{"male":89,"female":72,"group":"other"},{"male":89,"female":82,"group":"other"},{"male":89,"female":91,"group":"other"},{"male":89,"female":101,"group":"other"},
{"male":95,"female":77,"group":"other"},{"male":95,"female":87,"group":"other"},{"male":95,"female":97,"group":"other"},{"male":95,"female":108,"group":"other"},
{"male":101,"female":82,"group":"other"},{"male":101,"female":93,"group":"other"},{"male":101,"female":104,"group":"other"},{"male":101,"female":115,"group":"other"},
{"male":107,"female":87,"group":"other"},{"male":107,"female":99,"group":"other"},{"male":107,"female":110,"group":"other"},{"male":107,"female":122,"group":"other"},
{"male":113,"female":92,"group":"other"},{"male":113,"female":105,"group":"other"},{"male":113,"female":117,"group":"other"},{"male":113,"female":130,"group":"other"},
{"male":120,"female":98,"group":"other"},{"male":120,"female":111,"group":"other"},{"male":120,"female":124,"group":"other"},{"male":120,"female":138,"group":"other"},
{"male":128,"female":104,"group":"other"},{"male":128,"female":118,"group":"other"},{"male":128,"female":132,"group":"other"},{"male":128,"female":146,"group":"other"},
{"male":136,"female":110,"group":"other"},{"male":136,"female":125,"group":"other"},{"male":136,"female":140,"group":"other"},{"male":136,"female":155,"group":"other"},
{"male":145,"female":118,"group":"other"},{"male":145,"female":133,"group":"other"},{"male":145,"female":149,"group":"other"},{"male":145,"female":165,"group":"other"},
{"male":155,"female":126,"group":"other"},{"male":155,"female":142,"group":"other"},{"male":155,"female":159,"group":"other"},{"male":155,"female":176,"group":"other"},
{"male":166,"female":134,"group":"other"},{"male":166,"female":152,"group":"other"},{"male":166,"female":170,"group":"other"},{"male":166,"female":188,"group":"other"},
{"male":178,"female":145,"group":"other"},{"male":178,"female":163,"group":"other"},{"male":178,"female":182,"group":"other"},{"male":178,"female":200,"group":"other"},
{"male":192,"female":156,"group":"other"},{"male":192,"female":176,"group":"other"},{"male":192,"female":196,"group":"other"},{"male":192,"female":215,"group":"other"},
{"male":207,"female":170,"group":"other"},{"male":207,"female":190,"group":"other"},{"male":207,"female":212,"group":"other"},
{"male":222,"female":185,"group":"other"},{"male":222,"female":205,"group":"other"},{"male":222,"female":228,"group":"other"},
{"male":240,"female":200,"group":"other"},{"male":240,"female":225,"group":"other"},{"male":240,"female":250,"group":"other"},
{"male":260,"female":220,"group":"other"},{"male":260,"female":248,"group":"other"},
{"male":90.5,"female":142,"group":"F-pSDS"},{"male":103,"female":151,"group":"F-pSDS"},{"male":97,"female":129,"group":"F-pSDS"},{"male":87,"female":119,"group":"F-pSDS"},{"male":80,"female":111,"group":"F-pSDS"},{"male":92,"female":104,"group":"F-pSDS"},{"male":108,"female":116,"group":"F-pSDS"},{"male":109,"female":104,"group":"F-pSDS"},{"male":86,"female":96,"group":"F-pSDS"},{"male":72,"female":81,"group":"F-pSDS"},{"male":204,"female":224,"group":"F-pSDS"},{"male":159,"female":222,"group":"F-pSDS"},{"male":166,"female":209,"group":"F-pSDS"},{"male":142,"female":177,"group":"F-pSDS"},{"male":151,"female":166,"group":"F-pSDS"},{"male":138,"female":163,"group":"F-pSDS"},{"male":129,"female":161,"group":"F-pSDS"},{"male":114,"female":171,"group":"F-pSDS"},{"male":104,"female":150,"group":"F-pSDS"},{"male":125,"female":138,"group":"F-pSDS"},{"male":98,"female":118,"group":"F-pSDS"},{"male":111,"female":129,"group":"F-pSDS"},{"male":133,"female":126,"group":"F-pSDS"},{"male":176,"female":194,"group":"F-pSDS"},{"male":54,"female":57,"group":"F-pSDS"},{"male":111,"female":95,"group":"F-pSDS"},{"male":161,"female":163,"group":"F-pSDS"},{"male":174,"female":163,"group":"F-pSDS"},{"male":155,"female":152,"group":"F-pSDS"},{"male":146,"female":156,"group":"F-pSDS"},{"male":166,"female":156,"group":"F-pSDS"},{"male":188,"female":188,"group":"F-pSDS"},{"male":176,"female":171,"group":"F-pSDS"},{"male":182,"female":152,"group":"F-pSDS"},{"male":138,"female":188,"group":"F-pSDS"},{"male":151,"female":188,"group":"F-pSDS"},{"male":161,"female":200,"group":"F-pSDS"},
{"male":84,"female":146,"group":"M-pSDS"},{"male":109,"female":153,"group":"M-pSDS"},{"male":128,"female":150,"group":"M-pSDS"},{"male":83,"female":118,"group":"M-pSDS"},{"male":93,"female":108,"group":"M-pSDS"},{"male":144,"female":109,"group":"M-pSDS"},{"male":114,"female":124,"group":"M-pSDS"},{"male":125,"female":118,"group":"M-pSDS"},{"male":129,"female":121,"group":"M-pSDS"},{"male":61,"female":84,"group":"M-pSDS"},{"male":43,"female":62,"group":"M-pSDS"},{"male":51,"female":59,"group":"M-pSDS"},{"male":49,"female":52,"group":"M-pSDS"},{"male":49.5,"female":48,"group":"M-pSDS"},{"male":43,"female":45,"group":"M-pSDS"},{"male":37.3,"female":40,"group":"M-pSDS"},{"male":40,"female":34.5,"group":"M-pSDS"},{"male":52,"female":39.5,"group":"M-pSDS"},{"male":62.5,"female":59.6,"group":"M-pSDS"},{"male":69.6,"female":67,"group":"M-pSDS"},{"male":74,"female":67,"group":"M-pSDS"},{"male":78,"female":67,"group":"M-pSDS"},{"male":66,"female":63,"group":"M-pSDS"},{"male":89,"female":92,"group":"M-pSDS"},{"male":98,"female":90,"group":"M-pSDS"},{"male":98,"female":102,"group":"M-pSDS"},{"male":107,"female":102,"group":"M-pSDS"},{"male":114,"female":107,"group":"M-pSDS"},{"male":89,"female":103,"group":"M-pSDS"},{"male":84,"female":101,"group":"M-pSDS"},{"male":30.4,"female":22.3,"group":"M-pSDS"},{"male":18.1,"female":19.7,"group":"M-pSDS"},{"male":45,"female":41,"group":"M-pSDS"},{"male":44,"female":48,"group":"M-pSDS"},{"male":51,"female":52.5,"group":"M-pSDS"},{"male":43.4,"female":64,"group":"M-pSDS"},{"male":60.6,"female":85,"group":"M-pSDS"},{"male":69.5,"female":68,"group":"M-pSDS"},{"male":89,"female":118,"group":"M-pSDS"},{"male":95,"female":138,"group":"M-pSDS"},{"male":133,"female":142,"group":"M-pSDS"},{"male":122,"female":111,"group":"M-pSDS"},{"male":101,"female":106,"group":"M-pSDS"},{"male":104,"female":112,"group":"M-pSDS"},{"male":110,"female":117,"group":"M-pSDS"},{"male":118,"female":126,"group":"M-pSDS"},{"male":112,"female":98,"group":"M-pSDS"},{"male":120,"female":104,"group":"M-pSDS"},{"male":88,"female":96,"group":"M-pSDS"},{"male":94,"female":86,"group":"M-pSDS"},{"male":103,"female":95,"group":"M-pSDS"},{"male":80,"female":84,"group":"M-pSDS"},{"male":85,"female":110,"group":"M-pSDS"},{"male":56,"female":56,"group":"M-pSDS"},{"male":47,"female":46,"group":"M-pSDS"},{"male":59,"female":70,"group":"M-pSDS"},{"male":53,"female":66,"group":"M-pSDS"},{"male":100,"female":122,"group":"M-pSDS"},{"male":136,"female":128,"group":"M-pSDS"},
{"male":56.9,"female":229,"group":"marker"},{"male":108.7,"female":76.3,"group":"marker"},{"male":138,"female":62.5,"group":"marker"},{"male":128,"female":37.8,"group":"marker"}
],
"labB": [
{"name":"Sxl","kind":"control","tx":52.6,"ty":224},
{"name":"Mof","kind":"control","tx":136,"ty":77.6},
{"name":"Msl-1","kind":"control","tx":157,"ty":61.4},
{"name":"Msl-3","kind":"control","tx":177.5,"ty":32.2},
{"name":"CG2812","kind":"sig","male":182,"female":141,"lx":199,"ly":137,"tx":205,"ty":144},
{"name":"Phf7","kind":"sig","male":180,"female":111,"lx":233,"ly":111,"tx":242,"ty":111},
{"name":"CG15930","kind":"sig","male":416,"female":154,"lx":483,"ly":135,"tx":492,"ty":126},
{"name":"TrxT","kind":"sig","male":354,"female":81.4,"lx":411,"ly":70,"tx":408,"ty":65},
{"name":"HP1D3csd","kind":"sig","male":195,"female":52.6,"lx":231,"ly":45.6,"tx":213,"ty":42.3}
],
"labC": [
{"name":"Sxl","kind":"control","tx":44.4,"ty":231},
{"name":"Mof","kind":"control","tx":106.7,"ty":70.8},
{"name":"Msl-1","kind":"control","tx":143.8,"ty":61.6},
{"name":"Msl-3","kind":"control","tx":135,"ty":37.6},
{"name":"CG15930","kind":"sig","male":18.1,"female":19.7,"lx":18.1,"ly":15.1,"tx":17.5,"ty":13.6},
{"name":"HP1D3csd","kind":"sig","male":30.4,"female":22.3,"lx":30.4,"ly":16.9,"tx":30.2,"ty":15.4},
{"name":"TrxT","kind":"sig","male":62.5,"female":59.6,"lx":62.5,"ly":39,"tx":59.9,"ty":35.5},
{"name":"Phf7","kind":"sig","male":98,"female":90,"lx":98,"ly":52.6,"tx":90.2,"ty":48.3},
{"name":"CG2812","kind":"sig","male":129,"female":121,"lx":210,"ly":121,"tx":219.6,"ty":120.5}
]
},
"vconcat": [
{"spacing": 30, "hconcat": [
{
"width": 252, "height": 246,
"data": {"values": [{}]},
"layer": [
{"mark": {"type": "point", "shape": "circle", "filled": true, "size": 7744, "color": "#ff7b7b", "opacity": 1, "strokeWidth": 0}, "encoding": {"x": {"datum": 46.0, "type": "quantitative", "scale": {"domain": [0, 101.6]}, "axis": null}, "y": {"datum": 74.2, "type": "quantitative", "scale": {"domain": [0, 100]}, "axis": null}}},
{"mark": {"type": "point", "shape": "circle", "filled": true, "size": 3204, "color": "#9e907f", "opacity": 1, "strokeWidth": 0, "blend": "multiply"}, "encoding": {"x": {"datum": 70.0, "type": "quantitative", "scale": {"domain": [0, 101.6]}, "axis": null}, "y": {"datum": 73.7, "type": "quantitative", "scale": {"domain": [0, 100]}, "axis": null}}},
{"mark": {"type": "point", "shape": "circle", "filled": true, "size": 6724, "color": "#7b8cff", "opacity": 1, "strokeWidth": 0}, "encoding": {"x": {"datum": 42.7, "type": "quantitative", "scale": {"domain": [0, 101.6]}, "axis": null}, "y": {"datum": 10.2, "type": "quantitative", "scale": {"domain": [0, 100]}, "axis": null}}},
{"mark": {"type": "point", "shape": "circle", "filled": true, "size": 5929, "color": "#9e907f", "opacity": 1, "strokeWidth": 0, "blend": "multiply"}, "encoding": {"x": {"datum": 66.9, "type": "quantitative", "scale": {"domain": [0, 101.6]}, "axis": null}, "y": {"datum": 9.76, "type": "quantitative", "scale": {"domain": [0, 100]}, "axis": null}}},
{"mark": {"type": "text", "text": "A", "align": "left", "baseline": "alphabetic", "fontSize": 14, "fontWeight": "bold", "color": "#000"}, "encoding": {"x": {"datum": 2.7, "type": "quantitative", "scale": {"domain": [0, 101.6]}, "axis": null}, "y": {"datum": 104.9, "type": "quantitative", "scale": {"domain": [0, 100]}, "axis": null}}},
{"mark": {"type": "text", "text": "Proteins up-regulated in males vs. females", "align": "left", "baseline": "alphabetic", "fontSize": 10.3, "fontWeight": "bold", "color": "#111"}, "encoding": {"x": {"datum": 8.87, "type": "quantitative", "scale": {"domain": [0, 101.6]}, "axis": null}, "y": {"datum": 98.2, "type": "quantitative", "scale": {"domain": [0, 100]}, "axis": null}}},
{"mark": {"type": "text", "text": "mbt (n = 70)", "align": "left", "baseline": "alphabetic", "fontSize": 10, "fontWeight": "bold", "color": "#ff1f1f"}, "encoding": {"x": {"datum": 8.87, "type": "quantitative", "scale": {"domain": [0, 101.6]}, "axis": null}, "y": {"datum": 86.2, "type": "quantitative", "scale": {"domain": [0, 100]}, "axis": null}}},
{"mark": {"type": "text", "text": "wt (n = 27)", "align": "left", "baseline": "alphabetic", "fontSize": 10, "fontWeight": "bold", "color": "#8c6d3c"}, "encoding": {"x": {"datum": 67.7, "type": "quantitative", "scale": {"domain": [0, 101.6]}, "axis": null}, "y": {"datum": 86.2, "type": "quantitative", "scale": {"domain": [0, 100]}, "axis": null}}},
{"mark": {"type": "text", "text": "M-pSDS", "align": "center", "baseline": "alphabetic", "fontSize": 10.5, "fontWeight": "bold", "color": "#111"}, "encoding": {"x": {"datum": 42.9, "type": "quantitative", "scale": {"domain": [0, 101.6]}, "axis": null}, "y": {"datum": 74.8, "type": "quantitative", "scale": {"domain": [0, 100]}, "axis": null}}},
{"mark": {"type": "text", "text": "66", "align": "center", "baseline": "alphabetic", "fontSize": 10.5, "color": "#111"}, "encoding": {"x": {"datum": 42.7, "type": "quantitative", "scale": {"domain": [0, 101.6]}, "axis": null}, "y": {"datum": 69.0, "type": "quantitative", "scale": {"domain": [0, 100]}, "axis": null}}},
{"mark": {"type": "text", "text": "4", "align": "center", "baseline": "alphabetic", "fontSize": 10.5, "color": "#111"}, "encoding": {"x": {"datum": 61.1, "type": "quantitative", "scale": {"domain": [0, 101.6]}, "axis": null}, "y": {"datum": 71.95, "type": "quantitative", "scale": {"domain": [0, 100]}, "axis": null}}},
{"mark": {"type": "text", "text": "23", "align": "center", "baseline": "alphabetic", "fontSize": 10.5, "color": "#111"}, "encoding": {"x": {"datum": 70.8, "type": "quantitative", "scale": {"domain": [0, 101.6]}, "axis": null}, "y": {"datum": 71.95, "type": "quantitative", "scale": {"domain": [0, 100]}, "axis": null}}},
{"mark": {"type": "text", "text": "Proteins up-regulated in females vs. males", "align": "left", "baseline": "alphabetic", "fontSize": 10.3, "fontWeight": "bold", "color": "#111"}, "encoding": {"x": {"datum": 8.87, "type": "quantitative", "scale": {"domain": [0, 101.6]}, "axis": null}, "y": {"datum": 37.5, "type": "quantitative", "scale": {"domain": [0, 100]}, "axis": null}}},
{"mark": {"type": "text", "text": "mbt (n = 70)", "align": "left", "baseline": "alphabetic", "fontSize": 10, "fontWeight": "bold", "color": "#3340ff"}, "encoding": {"x": {"datum": 9.68, "type": "quantitative", "scale": {"domain": [0, 101.6]}, "axis": null}, "y": {"datum": 26.0, "type": "quantitative", "scale": {"domain": [0, 100]}, "axis": null}}},
{"mark": {"type": "text", "text": "wt (n = 61)", "align": "left", "baseline": "alphabetic", "fontSize": 10, "fontWeight": "bold", "color": "#8c6d3c"}, "encoding": {"x": {"datum": 68.5, "type": "quantitative", "scale": {"domain": [0, 101.6]}, "axis": null}, "y": {"datum": 26.0, "type": "quantitative", "scale": {"domain": [0, 100]}, "axis": null}}},
{"mark": {"type": "text", "text": "F-pSDS", "align": "center", "baseline": "alphabetic", "fontSize": 10.5, "fontWeight": "bold", "color": "#111"}, "encoding": {"x": {"datum": 38.6, "type": "quantitative", "scale": {"domain": [0, 101.6]}, "axis": null}, "y": {"datum": 10.7, "type": "quantitative", "scale": {"domain": [0, 100]}, "axis": null}}},
{"mark": {"type": "text", "text": "61", "align": "center", "baseline": "alphabetic", "fontSize": 10.5, "color": "#111"}, "encoding": {"x": {"datum": 38.6, "type": "quantitative", "scale": {"domain": [0, 101.6]}, "axis": null}, "y": {"datum": 5.3, "type": "quantitative", "scale": {"domain": [0, 100]}, "axis": null}}},
{"mark": {"type": "text", "text": "9", "align": "center", "baseline": "alphabetic", "fontSize": 10.5, "color": "#111"}, "encoding": {"x": {"datum": 55.2, "type": "quantitative", "scale": {"domain": [0, 101.6]}, "axis": null}, "y": {"datum": 8.4, "type": "quantitative", "scale": {"domain": [0, 100]}, "axis": null}}},
{"mark": {"type": "text", "text": "52", "align": "center", "baseline": "alphabetic", "fontSize": 10.5, "color": "#111"}, "encoding": {"x": {"datum": 69.0, "type": "quantitative", "scale": {"domain": [0, 101.6]}, "axis": null}, "y": {"datum": 8.4, "type": "quantitative", "scale": {"domain": [0, 100]}, "axis": null}}}
]
},
{
"width": 247, "height": 246,
"layer": [
{"data": {"name": "ptsB"}, "mark": {"type": "circle", "size": 13, "opacity": 1}, "encoding": {
"x": {"field": "male", "type": "quantitative", "scale": {"type": "log", "domain": [10, 1000]}, "axis": {"title": "Expression in male (intensity)", "values": [10,20,30,40,50,60,70,80,90,100,200,300,400,500,600,700,800,900,1000], "format": "d", "labelExpr": "(datum.value==10||datum.value==100||datum.value==1000)?datum.label:''", "tickSize": {"condition": {"test": "datum.value==10||datum.value==100||datum.value==1000", "value": 4}, "value": 2}, "labelFontSize": 6.5, "labelColor": "#444", "labelPadding": 2, "labelFlush": false, "labelOverlap": false, "domainColor": "#a0a0a0", "domainWidth": 1.2, "tickColor": "#a0a0a0", "titleFontSize": 12, "titleFontWeight": "normal", "titleColor": "#222", "titlePadding": 4, "grid": false}},
"y": {"field": "female", "type": "quantitative", "scale": {"type": "log", "domain": [10, 1000]}, "axis": {"title": "Expression in female (intensity )", "values": [10,20,30,40,50,60,70,80,90,100,200,300,400,500,600,700,800,900,1000], "format": "d", "labelExpr": "(datum.value==10||datum.value==100||datum.value==1000)?datum.label:''", "tickSize": {"condition": {"test": "datum.value==10||datum.value==100||datum.value==1000", "value": 4}, "value": 2}, "labelFontSize": 6.5, "labelColor": "#444", "labelPadding": 1, "labelFlush": false, "labelOverlap": false, "domainColor": "#a0a0a0", "domainWidth": 1.2, "tickColor": "#a0a0a0", "titleFontSize": 12, "titleFontWeight": "normal", "titleColor": "#222", "titlePadding": -3, "grid": false}},
"color": {"field": "group", "type": "nominal", "scale": {"domain": ["other", "M-pSDS", "F-pSDS", "marker"], "range": ["#d3d3d3", "#ff2b1c", "#1e3dff", "#000000"]}, "legend": null}}},
{"data": {"name": "labB"}, "transform": [{"filter": "isValid(datum.lx)"}], "mark": {"type": "rule", "color": "#555", "strokeWidth": 0.7}, "encoding": {"x": {"field": "male", "type": "quantitative", "scale": {"type": "log", "domain": [10, 1000]}}, "y": {"field": "female", "type": "quantitative", "scale": {"type": "log", "domain": [10, 1000]}}, "x2": {"field": "lx"}, "y2": {"field": "ly"}}},
{"data": {"name": "labB"}, "transform": [{"filter": "datum.kind=='control'"}], "mark": {"type": "text", "align": "left", "baseline": "middle", "fontSize": 6.5, "color": "#222"}, "encoding": {"x": {"field": "tx", "type": "quantitative", "scale": {"type": "log", "domain": [10, 1000]}}, "y": {"field": "ty", "type": "quantitative", "scale": {"type": "log", "domain": [10, 1000]}}, "text": {"field": "name"}}},
{"data": {"name": "labB"}, "transform": [{"filter": "datum.kind=='sig'"}], "mark": {"type": "text", "align": "left", "baseline": "middle", "fontSize": 7, "fontWeight": "bold", "color": "#ff2b1c"}, "encoding": {"x": {"field": "tx", "type": "quantitative", "scale": {"type": "log", "domain": [10, 1000]}}, "y": {"field": "ty", "type": "quantitative", "scale": {"type": "log", "domain": [10, 1000]}}, "text": {"field": "name"}}},
{"data": {"values": [{}]}, "mark": {"type": "text", "text": "l(3)mbt", "align": "left", "baseline": "alphabetic", "fontSize": 19, "fontStyle": "italic", "fontWeight": "bold", "color": "#000"}, "encoding": {"x": {"datum": 13.7, "type": "quantitative", "scale": {"type": "log", "domain": [10, 1000]}}, "y": {"datum": 861, "type": "quantitative", "scale": {"type": "log", "domain": [10, 1000]}}}},
{"data": {"values": [{}]}, "mark": {"type": "text", "text": "ts1", "align": "left", "baseline": "alphabetic", "fontSize": 11, "fontStyle": "italic", "fontWeight": "bold", "color": "#000", "dx": 64, "dy": -5}, "encoding": {"x": {"datum": 13.7, "type": "quantitative", "scale": {"type": "log", "domain": [10, 1000]}}, "y": {"datum": 861, "type": "quantitative", "scale": {"type": "log", "domain": [10, 1000]}}}},
{"data": {"values": [{}]}, "mark": {"type": "text", "text": "/Df", "align": "left", "baseline": "alphabetic", "fontSize": 19, "fontStyle": "italic", "fontWeight": "bold", "color": "#000", "dx": 79}, "encoding": {"x": {"datum": 13.7, "type": "quantitative", "scale": {"type": "log", "domain": [10, 1000]}}, "y": {"datum": 861, "type": "quantitative", "scale": {"type": "log", "domain": [10, 1000]}}}},
{"data": {"values": [{}]}, "mark": {"type": "text", "text": "B", "align": "left", "baseline": "alphabetic", "fontSize": 14, "fontWeight": "bold", "color": "#000"}, "encoding": {"x": {"datum": 5.0, "type": "quantitative", "scale": {"type": "log", "domain": [10, 1000]}}, "y": {"datum": 1276, "type": "quantitative", "scale": {"type": "log", "domain": [10, 1000]}}}},
{"data": {"values": [{}]}, "mark": {"type": "text", "text": "M-pSDS", "align": "right", "baseline": "middle", "fontSize": 12.5, "fontWeight": "bold", "color": "#ff2b1c"}, "encoding": {"x": {"datum": 1077, "type": "quantitative", "scale": {"type": "log", "domain": [10, 1000]}}, "y": {"datum": 18.5, "type": "quantitative", "scale": {"type": "log", "domain": [10, 1000]}}}},
{"data": {"values": [{}]}, "mark": {"type": "text", "text": "F-pSDS", "align": "right", "baseline": "middle", "fontSize": 12.5, "fontWeight": "bold", "color": "#1e3dff"}, "encoding": {"x": {"datum": 1077, "type": "quantitative", "scale": {"type": "log", "domain": [10, 1000]}}, "y": {"datum": 13.2, "type": "quantitative", "scale": {"type": "log", "domain": [10, 1000]}}}}
]
},
{
"width": 247, "height": 246,
"layer": [
{"data": {"name": "ptsC"}, "mark": {"type": "circle", "size": 13, "opacity": 1}, "encoding": {
"x": {"field": "male", "type": "quantitative", "scale": {"type": "log", "domain": [10, 1000]}, "axis": {"title": "Expression in male (intensity)", "values": [10,20,30,40,50,60,70,80,90,100,200,300,400,500,600,700,800,900,1000], "format": "d", "labelExpr": "(datum.value==10||datum.value==100||datum.value==1000)?datum.label:''", "tickSize": {"condition": {"test": "datum.value==10||datum.value==100||datum.value==1000", "value": 4}, "value": 2}, "labelFontSize": 6.5, "labelColor": "#444", "labelPadding": 2, "labelFlush": false, "labelOverlap": false, "domainColor": "#a0a0a0", "domainWidth": 1.2, "tickColor": "#a0a0a0", "titleFontSize": 12, "titleFontWeight": "normal", "titleColor": "#222", "titlePadding": 4, "grid": false}},
"y": {"field": "female", "type": "quantitative", "scale": {"type": "log", "domain": [10, 1000]}, "axis": {"title": "Expression in female (intensity)", "values": [10,20,30,40,50,60,70,80,90,100,200,300,400,500,600,700,800,900,1000], "format": "d", "labelExpr": "(datum.value==10||datum.value==100||datum.value==1000)?datum.label:''", "tickSize": {"condition": {"test": "datum.value==10||datum.value==100||datum.value==1000", "value": 4}, "value": 2}, "labelFontSize": 6.5, "labelColor": "#444", "labelPadding": 1, "labelFlush": false, "labelOverlap": false, "domainColor": "#a0a0a0", "domainWidth": 1.2, "tickColor": "#a0a0a0", "titleFontSize": 12, "titleFontWeight": "normal", "titleColor": "#222", "titlePadding": -3, "grid": false}},
"color": {"field": "group", "type": "nominal", "scale": {"domain": ["other", "M-pSDS", "F-pSDS", "marker"], "range": ["#d3d3d3", "#ff2b1c", "#1e3dff", "#000000"]}, "legend": null}}},
{"data": {"name": "labC"}, "transform": [{"filter": "isValid(datum.lx)"}], "mark": {"type": "rule", "color": "#777", "strokeWidth": 1}, "encoding": {"x": {"field": "male", "type": "quantitative", "scale": {"type": "log", "domain": [10, 1000]}}, "y": {"field": "female", "type": "quantitative", "scale": {"type": "log", "domain": [10, 1000]}}, "x2": {"field": "lx"}, "y2": {"field": "ly"}}},
{"data": {"name": "labC"}, "transform": [{"filter": "datum.kind=='control'"}], "mark": {"type": "text", "align": "left", "baseline": "middle", "fontSize": 6.5, "color": "#222"}, "encoding": {"x": {"field": "tx", "type": "quantitative", "scale": {"type": "log", "domain": [10, 1000]}}, "y": {"field": "ty", "type": "quantitative", "scale": {"type": "log", "domain": [10, 1000]}}, "text": {"field": "name"}}},
{"data": {"name": "labC"}, "transform": [{"filter": "datum.kind=='sig'"}], "mark": {"type": "text", "align": "left", "baseline": "middle", "fontSize": 7, "fontWeight": "bold", "color": "#ff2b1c"}, "encoding": {"x": {"field": "tx", "type": "quantitative", "scale": {"type": "log", "domain": [10, 1000]}}, "y": {"field": "ty", "type": "quantitative", "scale": {"type": "log", "domain": [10, 1000]}}, "text": {"field": "name"}}},
{"data": {"values": [{}]}, "mark": {"type": "text", "text": "w", "align": "left", "baseline": "alphabetic", "fontSize": 20, "fontStyle": "italic", "fontWeight": "bold", "color": "#000"}, "encoding": {"x": {"datum": 16.9, "type": "quantitative", "scale": {"type": "log", "domain": [10, 1000]}}, "y": {"datum": 861, "type": "quantitative", "scale": {"type": "log", "domain": [10, 1000]}}}},
{"data": {"values": [{}]}, "mark": {"type": "text", "text": "1118", "align": "left", "baseline": "alphabetic", "fontSize": 9.5, "fontStyle": "italic", "fontWeight": "bold", "color": "#000", "dx": 18, "dy": -6}, "encoding": {"x": {"datum": 16.9, "type": "quantitative", "scale": {"type": "log", "domain": [10, 1000]}}, "y": {"datum": 861, "type": "quantitative", "scale": {"type": "log", "domain": [10, 1000]}}}},
{"data": {"values": [{}]}, "mark": {"type": "text", "text": "C", "align": "left", "baseline": "alphabetic", "fontSize": 14, "fontWeight": "bold", "color": "#000"}, "encoding": {"x": {"datum": 4.74, "type": "quantitative", "scale": {"type": "log", "domain": [10, 1000]}}, "y": {"datum": 1251, "type": "quantitative", "scale": {"type": "log", "domain": [10, 1000]}}}},
{"data": {"values": [{}]}, "mark": {"type": "text", "text": "M-pSDS", "align": "right", "baseline": "middle", "fontSize": 12.5, "fontWeight": "bold", "color": "#ff2b1c"}, "encoding": {"x": {"datum": 1274, "type": "quantitative", "scale": {"type": "log", "domain": [10, 1000]}}, "y": {"datum": 18.7, "type": "quantitative", "scale": {"type": "log", "domain": [10, 1000]}}}},
{"data": {"values": [{}]}, "mark": {"type": "text", "text": "F-pSDS", "align": "right", "baseline": "middle", "fontSize": 12.5, "fontWeight": "bold", "color": "#1e3dff"}, "encoding": {"x": {"datum": 1251, "type": "quantitative", "scale": {"type": "log", "domain": [10, 1000]}}, "y": {"datum": 13.5, "type": "quantitative", "scale": {"type": "log", "domain": [10, 1000]}}}}
]
}
]},
{
"width": 905, "height": 16,
"data": {"values": [{}]},
"layer": [
{"mark": {"type": "text", "text": "Fig. 2. The sex-linked mbt proteome.", "align": "left", "baseline": "middle", "fontSize": 12.5, "fontWeight": "bold", "font": "Liberation Sans Narrow, DejaVu Sans Condensed, sans-serif", "color": "#111"}, "encoding": {"x": {"datum": 0.55, "type": "quantitative", "scale": {"domain": [0, 100]}, "axis": null}, "y": {"datum": 50, "type": "quantitative", "scale": {"domain": [0, 100]}, "axis": null}}},
{"mark": {"type": "text", "text": "(A) Venn diagrams showing the number of proteins that present sex-biased expression in mbt (red and blue) and wild-type", "align": "left", "baseline": "middle", "fontSize": 12, "font": "Liberation Sans Narrow, DejaVu Sans Condensed, sans-serif", "color": "#111"}, "encoding": {"x": {"datum": 26.5, "type": "quantitative", "scale": {"domain": [0, 100]}, "axis": null}, "y": {"datum": 50, "type": "quantitative", "scale": {"domain": [0, 100]}, "axis": null}}}
]
}
]
}
